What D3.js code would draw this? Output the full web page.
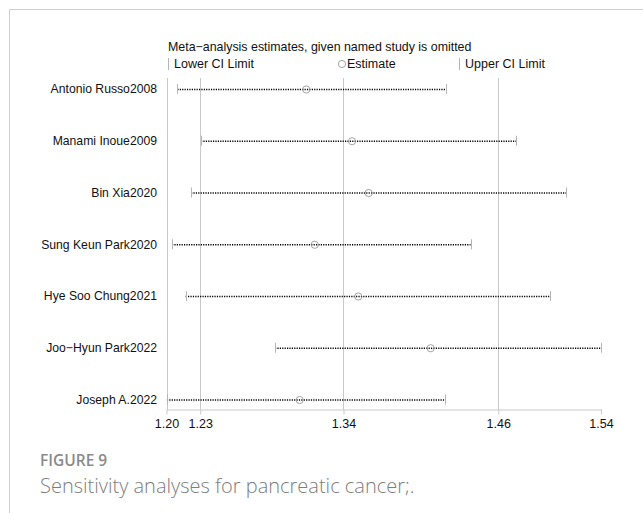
<!DOCTYPE html>
<html>
<head>
<meta charset="utf-8">
<script src="https://cdn.jsdelivr.net/npm/d3@7"></script>
<style>
  html, body { margin: 0; padding: 0; background: #fff; }
  svg { display: block; }
</style>
</head>
<body>
<svg id="chart" width="643" height="513"></svg>
<script>
// Leave-one-out sensitivity analysis (pooled estimate with named study omitted)
const studies = [
  "Antonio Russo2008",
  "Manami Inoue2009",
  "Bin Xia2020",
  "Sung Keun Park2020",
  "Hye Soo Chung2021",
  "Joo\u2212Hyun Park2022",
  "Joseph A.2022"
];
const estimates = [1.3094, 1.3452, 1.3582, 1.3160, 1.3501, 1.4067, 1.3042];
const lowerCI   = [1.2085, 1.2270, 1.2192, 1.2043, 1.2150, 1.2849, 1.2003];
const upperCI   = [1.4190, 1.4738, 1.5129, 1.4379, 1.5001, 1.5400, 1.4183];

// Axis: min lower limit, overall lower CI, overall estimate, overall upper CI, max upper limit
const tickValues = [1.20, 1.2264, 1.3385, 1.4596, 1.54];
const tickLabels = ["1.20", "1.23", "1.34", "1.46", "1.54"];

const svg = d3.select("#chart");
const gridColor = "#c9c9c9";
const labelFont = "'Liberation Sans', Arial, sans-serif";

// panel frame
svg.append("path")
  .attr("d", "M9.5,513 L9.5,9.5 L643,9.5")
  .attr("fill", "none").attr("stroke", "#cfcfcf").attr("stroke-width", 1);

const x = d3.scaleLinear().domain([1.20, 1.54]).range([166.5, 601]);
const y = d3.scalePoint().domain(studies).range([89, 399.5]);
const axisY = 409.5, gridTop = 78;

// vertical reference lines at the inner ticks
svg.append("g").selectAll("line")
  .data(tickValues.slice(0, 4))
  .join("line")
  .attr("x1", d => Math.round(x(d)) + 0.5).attr("x2", d => Math.round(x(d)) + 0.5)
  .attr("y1", gridTop).attr("y2", axisY)
  .attr("stroke", gridColor).attr("stroke-width", 1);

// bottom axis
const axis = d3.axisBottom(x)
  .tickValues(tickValues)
  .tickFormat((d, i) => tickLabels[i])
  .tickSize(5)
  .tickSizeOuter(0)
  .tickPadding(5);
const ax = svg.append("g").attr("transform", `translate(0,${axisY})`).call(axis);
ax.select(".domain").attr("stroke", gridColor);
ax.selectAll(".tick line").attr("stroke", gridColor);
ax.selectAll(".tick text")
  .attr("fill", "#111").style("font-family", labelFont).style("font-size", "12.5px");

// study labels
svg.append("g").selectAll("text")
  .data(studies)
  .join("text")
  .attr("x", 157).attr("y", d => y(d))
  .attr("dy", "0.35em")
  .attr("text-anchor", "end")
  .attr("fill", "#111")
  .style("font-family", labelFont).style("font-size", "12.2px")
  .text(d => d);

const rows = studies.map((s, i) => ({ s, est: estimates[i], lo: lowerCI[i], hi: upperCI[i] }));

const g = svg.append("g");
// dotted interval lines
g.selectAll("line.ci")
  .data(rows)
  .join("line").attr("class", "ci")
  .attr("x1", d => x(d.lo)).attr("x2", d => x(d.hi))
  .attr("y1", d => y(d.s) + 0.5).attr("y2", d => y(d.s) + 0.5)
  .attr("stroke", "#000").attr("stroke-width", 1.4)
  .attr("stroke-dasharray", "1.2,1.2");
// end caps
["lo", "hi"].forEach(k => {
  g.selectAll("line.cap-" + k)
    .data(rows)
    .join("line").attr("class", "cap-" + k)
    .attr("x1", d => Math.round(x(d[k])) + 0.5).attr("x2", d => Math.round(x(d[k])) + 0.5)
    .attr("y1", d => y(d.s) - 5).attr("y2", d => y(d.s) + 5)
    .attr("stroke", "#b5b5b5").attr("stroke-width", 1);
});
// point estimates (hollow markers)
g.selectAll("circle")
  .data(rows)
  .join("circle")
  .attr("cx", d => x(d.est)).attr("cy", d => y(d.s) + 0.5)
  .attr("r", 3.6)
  .attr("fill", "none").attr("stroke", "#9a9a9a").attr("stroke-width", 0.9);

// legend
svg.append("text")
  .attr("x", 168).attr("y", 47).attr("dy", "0.35em")
  .attr("fill", "#111").style("font-family", labelFont).style("font-size", "12.4px")
  .text("Meta\u2212analysis estimates, given named study is omitted");

const leg = svg.append("g").attr("transform", "translate(0,64)");
[168.5, 459.5].forEach(px => {
  leg.append("line").attr("x1", px).attr("x2", px).attr("y1", -6).attr("y2", 6)
    .attr("stroke", "#b5b5b5");
});
leg.append("circle").attr("cx", 342).attr("cy", 0).attr("r", 3.6)
  .attr("fill", "none").attr("stroke", "#9a9a9a").attr("stroke-width", 0.9);
[["Lower CI Limit", 174], ["Estimate", 347], ["Upper CI Limit", 465]].forEach(([t, px]) => {
  leg.append("text").attr("x", px).attr("y", 0).attr("dy", "0.35em")
    .attr("fill", "#111").style("font-family", labelFont).style("font-size", "12.5px")
    .text(t);
});

// caption
svg.append("text")
  .attr("x", 40).attr("y", 466)
  .attr("fill", "#8a8a8a")
  .style("font-family", "'Open Sans', sans-serif").style("font-size", "15.5px").style("font-weight", 600)
  .text("FIGURE 9");
svg.append("text")
  .attr("x", 40).attr("y", 493)
  .attr("fill", "#7d7d7d")
  .style("font-family", "'Open Sans', sans-serif").style("font-size", "20px").style("font-weight", 300)
  .text("Sensitivity analyses for pancreatic cancer;.");
</script>
</body>
</html>
